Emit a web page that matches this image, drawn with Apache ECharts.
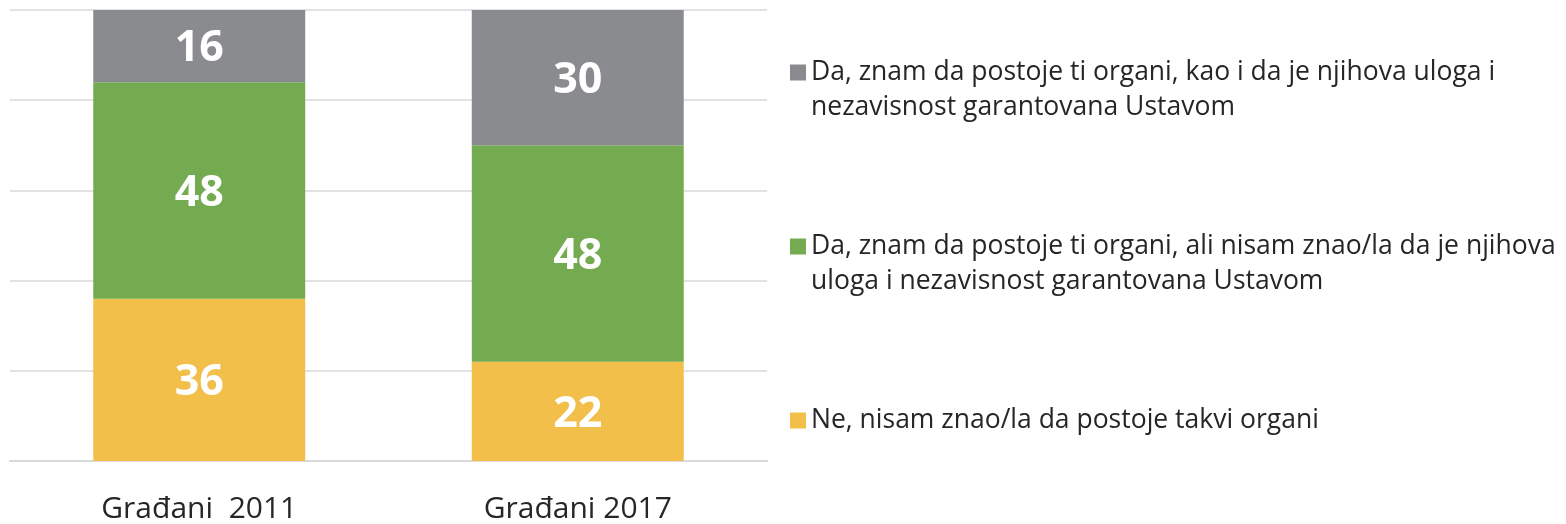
<!DOCTYPE html>
<html>
<head>
<meta charset="utf-8">
<script src="https://cdn.jsdelivr.net/npm/echarts@6/dist/echarts.min.js"></script>
<style>
    html, body { margin: 0; padding: 0; background: #fff; }
    #chart { width: 1566px; height: 524px; }
</style>
</head>
<body>
<div id="chart"></div>
<script>
// categories and series values (percent)
var categories = ['Građani  2011', 'Građani 2017'];
var nameNe = 'Ne, nisam znao/la da postoje takvi organi';
var nameAli = 'Da, znam da postoje ti organi, ali nisam znao/la da je njihova\nuloga i nezavisnost garantovana Ustavom';
var nameKao = 'Da, znam da postoje ti organi, kao i da je njihova uloga i\nnezavisnost garantovana Ustavom';
var valuesNe = [36, 22];
var valuesAli = [48, 48];
var valuesKao = [16, 30];

var colors = { kao: '#898b8e', ali: '#74ab50', ne: '#f1bf4a' };

initChart('chart');

/**
 * build the stacked bar chart
 * @param id container id
 */
function initChart(id) {
    var container = echarts.init(document.getElementById(id));
    var font = '"Open Sans", "Noto Sans", sans-serif';

    var labelStyle = {
        show: true,
        position: 'inside',
        offset: [0, 3],
        color: '#fff',
        fontSize: 43,
        fontWeight: 'bold',
        fontFamily: font
    };

    // one legend per item so the square sits on the first text line
    function legendAt(name, top, twoLines) {
        return {
            orient: 'vertical',
            left: 790,
            top: top,
            padding: 0,
            itemWidth: 16,
            itemHeight: 16,
            itemGap: 0,
            icon: 'rect',
            data: [name],
            selectedMode: false,
            formatter: function (n) {
                return twoLines ? '\n' + n : n;
            },
            textStyle: {
                color: '#262626',
                fontSize: 26.5,
                fontFamily: font,
                lineHeight: 35
            }
        };
    }

    var option = {
        animation: false,
        grid: { left: 10, right: 799, top: 10, bottom: 61 },
        legend: [
            legendAt(nameKao, 20, true),
            legendAt(nameAli, 194, true),
            legendAt(nameNe, 403, false)
        ],
        xAxis: {
            type: 'category',
            data: categories,
            axisLine: { lineStyle: { color: '#d9d9d9', width: 2 } },
            axisTick: { show: false },
            axisLabel: { color: '#262626', fontSize: 30, fontFamily: font, margin: 33 }
        },
        yAxis: {
            type: 'value',
            min: 0,
            max: 100,
            interval: 20,
            axisLabel: { show: false },
            axisLine: { show: false },
            axisTick: { show: false },
            splitLine: { lineStyle: { color: '#d9d9d9', width: 1.5 } }
        },
        series: [
            { name: nameNe, type: 'bar', stack: 'a', barWidth: '56%', data: valuesNe,
              itemStyle: { color: colors.ne }, label: labelStyle },
            { name: nameAli, type: 'bar', stack: 'a', barWidth: '56%', data: valuesAli,
              itemStyle: { color: colors.ali }, label: labelStyle },
            { name: nameKao, type: 'bar', stack: 'a', barWidth: '56%', data: valuesKao,
              itemStyle: { color: colors.kao }, label: labelStyle }
        ]
    };
    container.setOption(option);
}
</script>
</body>
</html>
